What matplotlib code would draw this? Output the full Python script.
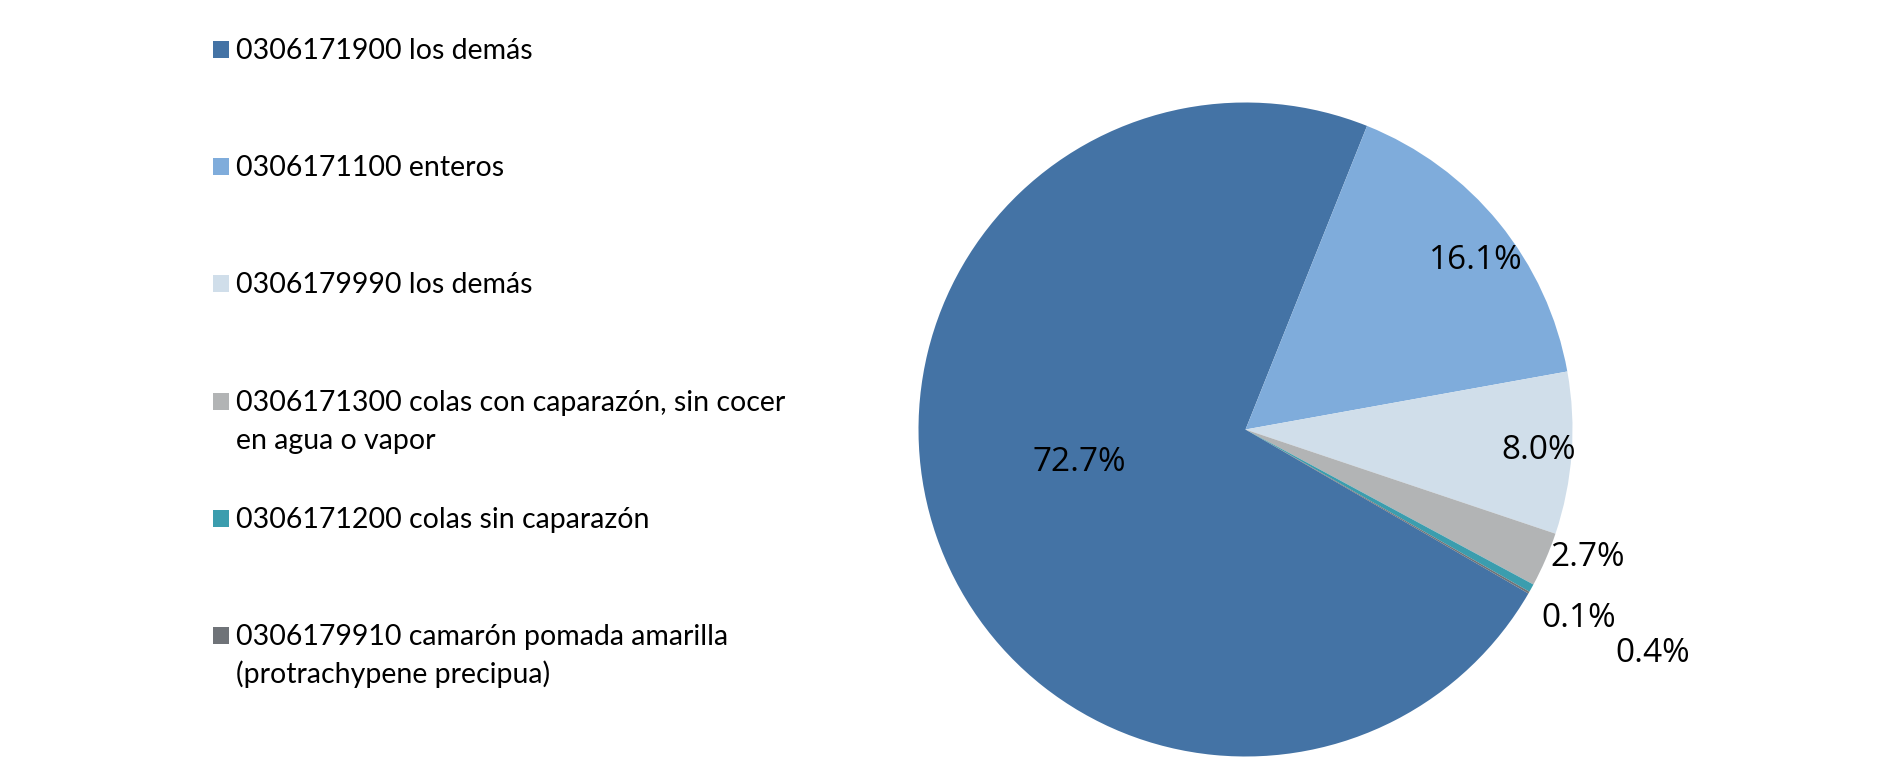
import numpy as np
import matplotlib
matplotlib.use("Agg")
from matplotlib import pyplot as plt
from matplotlib.patches import Rectangle

# Datos
codigos = ["0306171900 los demás",
           "0306171100 enteros",
           "0306179990 los demás",
           "0306171300 colas con caparazón, sin cocer\nen agua o vapor",
           "0306171200 colas sin caparazón",
           "0306179910 camarón pomada amarilla\n(protrachypene precipua)"]
porcentajes = [72.7, 16.1, 8.0, 2.7, 0.4, 0.1]
colores = ["#4473A5", "#7FACDB", "#D0DEEA", "#B2B4B5", "#3B9DAE", "#6F7378"]

# Posición de las etiquetas (radio relativo, desplazamiento angular en grados)
LBL_R = [0.52, 0.873, 0.90, 1.117, 1.42, 1.17]
LBL_DA = [-7.7, -3.0, 0.0, 2.9, 0.2, 0.4]

W, H = 1879, 778
fig = plt.figure(figsize=(W / 100, H / 100), dpi=100)
fig.patch.set_facecolor("white")

# Pastel
cx, cy, R = 1245.5, 429.5, 327
ax = fig.add_axes([(cx - R) / W, (H - cy - R) / H, 2 * R / W, 2 * R / H])
wedges, _ = ax.pie(porcentajes, colors=colores, startangle=-30.1,
                   counterclock=False, radius=1,
                   wedgeprops=dict(linewidth=0))
ax.set_xlim(-1, 1)
ax.set_ylim(-1, 1)
ax.set_aspect("equal")
ax.axis("off")

for w, p, r, da in zip(wedges, porcentajes, LBL_R, LBL_DA):
    ang = np.deg2rad((w.theta1 + w.theta2) / 2 + da)
    ax.text(r * np.cos(ang), r * np.sin(ang), "%.1f%%" % p,
            ha="center", va="center", fontsize=24, family="Open Sans",
            color="#000000", clip_on=False)

# Leyenda manual
y0 = 59
paso = 117.2
for i, (txt, c) in enumerate(zip(codigos, colores)):
    base = y0 + i * paso
    fig.patches.append(Rectangle((213 / W, 1 - (base - 1) / H), 16 / W, 17 / H,
                                 transform=fig.transFigure, facecolor=c,
                                 edgecolor="none"))
    for j, linea in enumerate(txt.split("\n")):
        fig.text(236 / W, 1 - (base + j * 38) / H, linea, ha="left",
                 va="baseline", fontsize=20.5, family="Lato", color="#000000")

fig.savefig("out.png", dpi=100, facecolor="white")
